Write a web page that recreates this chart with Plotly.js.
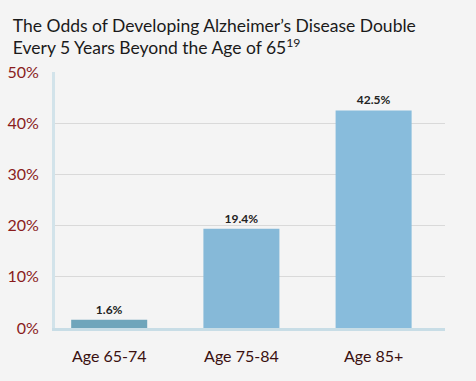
<!DOCTYPE html>
<html><head><meta charset="utf-8">
<script src="https://cdn.plot.ly/plotly-3.0.1.min.js"></script>
<style>html,body{margin:0;padding:0;background:#f4f4f4}#c{width:476px;height:381px}</style>
</head><body><div id="c"></div>
<script>
const categories = ["Age 65-74", "Age 75-84", "Age 85+"];
const values = [1.6, 19.4, 42.5];
const barColors = ["#6fa5bb", "#86b9d8", "#88bcdc"];
const yTicks = [0, 10, 20, 30, 40, 50];
const gridTicks = [10, 20, 30, 40];

const font = "Lato, 'Open Sans', sans-serif";
const trace = {
  type: "bar", x: categories, y: values,
  marker: {color: barColors, line: {width: 0}},
  width: 0.575,
  text: values.map(v => v.toFixed(1) + "%"),
  textposition: "outside", cliponaxis: false,
  textfont: {family: font, size: 12, color: "#222", weight: "bold"},
  hoverinfo: "skip"
};
const ghost = {type: "scatter", x: [categories[0]], y: [0], yaxis: "y2", mode: "markers",
  marker: {opacity: 0}, hoverinfo: "skip", showlegend: false};
const layout = {
  width: 476, height: 381,
  paper_bgcolor: "#f4f4f4", plot_bgcolor: "rgba(0,0,0,0)",
  margin: {l: 55, r: 31, t: 72, b: 53},
  showlegend: false, bargap: 0.4,
  title: {text: "The Odds of Developing Alzheimer’s Disease Double<br>Every 5 Years Beyond the Age of 65<sup>19</sup>",
    x: 0.027, xanchor: "left", y: 0.917, yanchor: "top",
    font: {family: font, size: 17.5, color: "#1a1a1a"}},
  xaxis: {range: [-0.41, 2.54], showgrid: false, zeroline: false,
    showline: true, linecolor: "#c8dde6", linewidth: 3,
    ticks: "outside", ticklen: 12, tickcolor: "rgba(0,0,0,0)",
    tickfont: {family: font, size: 16, color: "#3a1010"}, fixedrange: true},
  yaxis: {range: [0, 50], tickvals: yTicks, ticktext: yTicks.map(v => v + "%"),
    showgrid: false, zeroline: false, showline: true, linecolor: "#d2e3ea", linewidth: 3,
    ticks: "outside", ticklen: 10, tickcolor: "rgba(0,0,0,0)",
    tickfont: {family: font, size: 16, color: "#8a1c1c"}, fixedrange: true},
  yaxis2: {overlaying: "y", range: [0, 50], tickvals: gridTicks, showticklabels: false,
    showgrid: true, gridcolor: "#d9d9d9", gridwidth: 1, zeroline: false, showline: false,
    fixedrange: true}
};
Plotly.newPlot("c", [ghost, trace], layout, {displayModeBar: false, staticPlot: true});
</script></body></html>
